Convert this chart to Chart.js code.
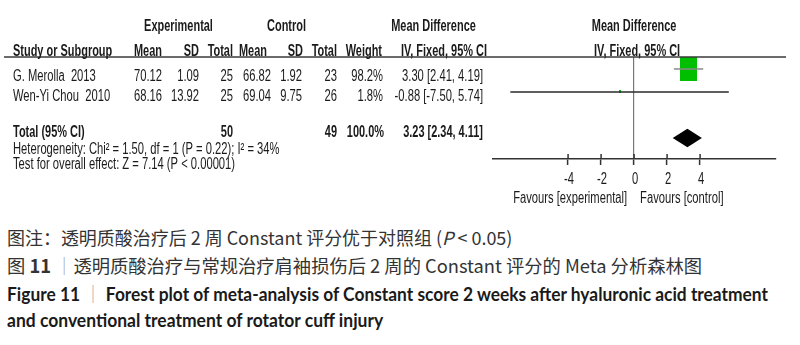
<!DOCTYPE html>
<html>
<head>
<meta charset="utf-8">
<script src="https://cdn.jsdelivr.net/npm/chart.js@4.4.1/dist/chart.umd.min.js"></script>
<style>
  html, body { margin: 0; padding: 0; background: #fff; }
  #wrap { position: relative; width: 800px; height: 345px; overflow: hidden; }
  #forest { position: absolute; left: 0; top: 0; }
  .cap { position: absolute; left: 7px; white-space: nowrap; transform-origin: 0 50%;
         color: #2a2a2a; font-size: 18px; line-height: 20px; height: 20px; }
  .zh { font-family: "Noto Sans CJK SC", sans-serif; color: #333; }
  .en { font-family: Lato, "Noto Sans CJK SC", sans-serif; font-weight: 700; color: #1a1a1a; }
  .bar { color: #aaa; font-weight: 400; font-family: "Noto Sans CJK SC", sans-serif; }
</style>
</head>
<body>
<div id="wrap">
  <canvas id="forest" width="800" height="215"></canvas>
  <div class="cap zh" data-w="505" style="top:227px">图注：透明质酸治疗后 2 周 Constant 评分优于对照组 (<i>P</i> &lt; 0.05)</div>
  <div class="cap zh" data-w="695" style="top:255px">图 <b>11</b> <span class="bar">｜</span>透明质酸治疗与常规治疗肩袖损伤后 2 周的 Constant 评分的 Meta 分析森林图</div>
  <div class="cap en" data-w="761" style="top:283px">Figure 11 <span class="bar">｜</span> Forest plot of meta-analysis of Constant score 2 weeks after hyaluronic acid treatment</div>
  <div class="cap en" data-w="376" style="top:310px">and conventional treatment of rotator cuff injury</div>
</div>
<script>
// 데이터
const studies = ["G. Merolla  2013", "Wen-Yi Chou  2010"];
const expMean = [70.12, 68.16];
const expSD = [1.09, 13.92];
const expN = [25, 25];
const ctlMean = [66.82, 69.04];
const ctlSD = [1.92, 9.75];
const ctlN = [23, 26];
const weights = [98.2, 1.8];
const md = [3.30, -0.88];
const ciLow = [2.41, -7.50];
const ciHigh = [4.19, 5.74];
const totalMD = 3.23;
const totalLow = 2.34;
const totalHigh = 4.11;
const totalExpN = 50;
const totalCtlN = 49;
const heterogeneity = "Heterogeneity: Chi² = 1.50, df = 1 (P = 0.22); I² = 34%";
const overallTest = "Test for overall effect: Z = 7.14 (P < 0.00001)";
const tickValues = [-4, -2, 0, 2, 4];
const rows = [1, 2];     // 연구 행 위치
const totalRow = 4;      // 합계 행 위치

const TXT = "#1a1a1a";
const FONT = '"Liberation Sans", Arial, sans-serif';

// 글자를 가로로 좁게 그림
function txt(ctx, s, x, y, align, bold) {
  ctx.save();
  ctx.font = (bold ? "bold " : "") + "16px " + FONT;
  ctx.fillStyle = TXT;
  ctx.textBaseline = "middle";
  ctx.textAlign = align;
  ctx.translate(x, y);
  ctx.scale(bold ? 0.685 : 0.70, 1);
  ctx.fillText(s, 0, 0);
  ctx.restore();
}

function ci(m, lo, hi) {
  return `${m.toFixed(2)} [${lo.toFixed(2)}, ${hi.toFixed(2)}]`;
}

// 가중치 크기의 초록 네모
function boxImage(w) {
  const c = document.createElement("canvas");
  c.width = Math.max(2, Math.round(1.72 * Math.sqrt(w)));
  c.height = Math.max(2, Math.round(2.55 * Math.sqrt(w)));
  const g = c.getContext("2d");
  g.fillStyle = "#00bf00";
  g.fillRect(0, 0, c.width, c.height);
  return c;
}

const tablePlugin = {
  id: "table",
  afterDraw(chart) {
    const ctx = chart.ctx;
    const area = chart.chartArea;
    const x = chart.scales.x;
    const y = chart.scales.y;

    // 머리글 밑줄
    ctx.save();
    ctx.strokeStyle = "#3a3a3a";
    ctx.lineWidth = 1.5;
    ctx.beginPath();
    ctx.moveTo(4, area.top);
    ctx.lineTo(786, area.top);
    ctx.stroke();

    // 눈금 위쪽 부분
    ctx.strokeStyle = "#333";
    ctx.lineWidth = 1.5;
    x.ticks.forEach((t) => {
      const px = x.getPixelForValue(t.value);
      ctx.beginPath();
      ctx.moveTo(px, area.bottom - 5);
      ctx.lineTo(px, area.bottom);
      ctx.stroke();
    });
    ctx.restore();

    // 눈금 글자
    x.ticks.forEach((t) => {
      txt(ctx, String(t.value), x.getPixelForValue(t.value) + 1, 179.5, "center", false);
    });
    const zero = x.getPixelForValue(0);
    txt(ctx, "Favours [experimental]", zero - 7, 198.5, "right", false);
    txt(ctx, "Favours [control]", zero + 6, 198.5, "left", false);

    // 머리글
    txt(ctx, "Experimental", 178.5, 27, "center", true);
    txt(ctx, "Control", 286.5, 27, "center", true);
    txt(ctx, "Mean Difference", 433.5, 27, "center", true);
    txt(ctx, "Mean Difference", zero, 27, "center", true);
    const h2 = 52;
    txt(ctx, "Study or Subgroup", 13, h2, "left", true);
    txt(ctx, "Mean", 162, h2, "right", true);
    txt(ctx, "SD", 199, h2, "right", true);
    txt(ctx, "Total", 233, h2, "right", true);
    txt(ctx, "Mean", 267, h2, "right", true);
    txt(ctx, "SD", 303, h2, "right", true);
    txt(ctx, "Total", 337, h2, "right", true);
    txt(ctx, "Weight", 382, h2, "right", true);
    txt(ctx, "IV, Fixed, 95% CI", 487, h2, "right", true);
    txt(ctx, "IV, Fixed, 95% CI", zero + 3, h2, "center", true);

    // 연구 행
    const rowY = [76.5, 96.5];
    studies.forEach((s, i) => {
      const ry = rowY[i];
      txt(ctx, s, 13, ry, "left", false);
      txt(ctx, expMean[i].toFixed(2), 162, ry, "right", false);
      txt(ctx, expSD[i].toFixed(2), 199, ry, "right", false);
      txt(ctx, String(expN[i]), 233, ry, "right", false);
      txt(ctx, ctlMean[i].toFixed(2), 271, ry, "right", false);
      txt(ctx, ctlSD[i].toFixed(2), 302, ry, "right", false);
      txt(ctx, String(ctlN[i]), 337, ry, "right", false);
      txt(ctx, weights[i].toFixed(1) + "%", 383, ry, "right", false);
      txt(ctx, ci(md[i], ciLow[i], ciHigh[i]), 483, ry, "right", false);
    });

    // 합계 행
    txt(ctx, "Total (95% CI)", 13, 133, "left", true);
    txt(ctx, String(totalExpN), 233, 133, "right", true);
    txt(ctx, String(totalCtlN), 337, 133, "right", true);
    txt(ctx, weights.reduce((a, b) => a + b, 0).toFixed(1) + "%", 384, 133, "right", true);
    txt(ctx, ci(totalMD, totalLow, totalHigh), 483, 133, "right", true);
    txt(ctx, heterogeneity, 13, 149.5, "left", false);
    txt(ctx, overallTest, 13, 164.5, "left", false);

    // 합계 다이아몬드
    const cy = y.getPixelForValue(totalRow);
    ctx.save();
    ctx.fillStyle = "#000";
    ctx.beginPath();
    ctx.moveTo(x.getPixelForValue(totalLow), cy);
    ctx.lineTo(x.getPixelForValue(totalMD), cy - 9.2);
    ctx.lineTo(x.getPixelForValue(totalHigh), cy);
    ctx.lineTo(x.getPixelForValue(totalMD), cy + 9.2);
    ctx.closePath();
    ctx.fill();
    ctx.restore();
  },
};

const ciColors = ["#8a8a8a", "#2a2a2a"];
const datasets = studies.map((s, i) => ({
  label: s,
  data: [{ x: ciLow[i], y: rows[i] }, { x: ciHigh[i], y: rows[i] }],
  showLine: true,
  borderColor: ciColors[i],
  borderWidth: 1.5,
  pointRadius: 0,
}));
datasets.push({
  label: "MD",
  data: md.map((m, i) => ({ x: m, y: rows[i] })),
  showLine: false,
  pointStyle: weights.map(boxImage),
  pointRadius: 3,
});

new Chart(document.querySelector("#forest"), {
  type: "scatter",
  data: { datasets: datasets },
  options: {
    responsive: false,
    animation: false,
    layout: { padding: { left: 493, right: 24, top: 57, bottom: 16 } },
    plugins: { legend: { display: false }, tooltip: { enabled: false } },
    scales: {
      x: {
        type: "linear",
        min: -8.55,
        max: 8.6,
        afterBuildTicks: (scale) => {
          scale.ticks = tickValues.map((v) => ({ value: v }));
        },
        afterFit: (scale) => {
          scale.height = 40;
        },
        grid: {
          drawOnChartArea: true,
          drawTicks: true,
          tickLength: 6,
          tickColor: "#333",
          tickWidth: 1.5,
          lineWidth: 1.2,
          color: (c) => (c.tick && c.tick.value === 0 ? "#777" : "rgba(0,0,0,0)"),
        },
        border: { display: true, color: "#333", width: 1.5 },
        ticks: { color: "rgba(0,0,0,0)", font: { size: 15 }, padding: 6 },
      },
      y: {
        type: "linear",
        min: 0.48,
        max: 4.91,
        reverse: true,
        display: false,
      },
    },
  },
  plugins: [tablePlugin],
});

// 캡션 폭 맞추기
document.querySelectorAll(".cap").forEach((el) => {
  const w = el.offsetWidth;
  el.style.transform = `scaleX(${Number(el.dataset.w) / w})`;
});
</script>
</body>
</html>
